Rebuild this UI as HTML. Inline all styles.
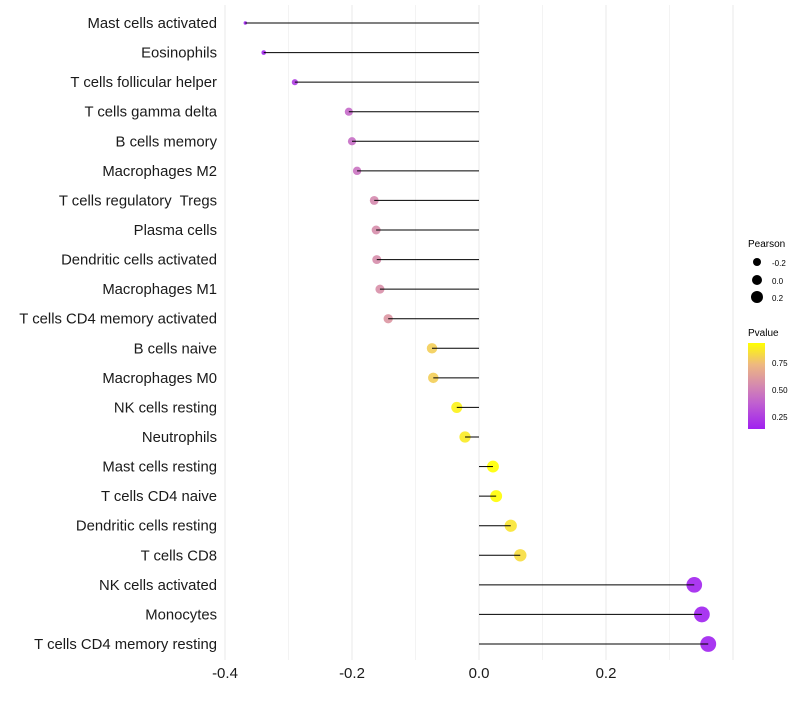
<!DOCTYPE html>
<html><head><meta charset="utf-8"><style>
body{margin:0;background:#fff;font-family:"Liberation Sans",sans-serif}
text{white-space:pre}
</style></head><body>
<svg id="chart" width="800" height="700" xmlns="http://www.w3.org/2000/svg" font-family="Liberation Sans, sans-serif">
<defs><linearGradient id="pg" x1="0" y1="1" x2="0" y2="0">
<stop offset="0" stop-color="#a020f0"/><stop offset="0.3" stop-color="#c060d0"/><stop offset="0.5" stop-color="#d488b0"/><stop offset="0.75" stop-color="#eeb880"/><stop offset="1" stop-color="#ffff00"/></linearGradient></defs>
<g id="grid"></g><g id="marks"></g><g id="labels"></g>
<g>
<text x="748" y="247" font-size="10">Pearson</text>
<circle cx="757" cy="262" r="4" fill="#000"/><text x="772" y="266" font-size="8">-0.2</text>
<circle cx="757" cy="280" r="5" fill="#000"/><text x="772" y="284" font-size="8">0.0</text>
<circle cx="757" cy="297" r="6" fill="#000"/><text x="772" y="301" font-size="8">0.2</text>
<text x="748" y="336" font-size="10">Pvalue</text>
<rect x="748" y="343" width="17" height="86" fill="url(#pg)"/>
<text x="772" y="366" font-size="8">0.75</text>
<text x="772" y="393" font-size="8">0.50</text>
<text x="772" y="420" font-size="8">0.25</text>
</g>
</svg>
<script>
const categories=["Mast cells activated","Eosinophils","T cells follicular helper","T cells gamma delta","B cells memory","Macrophages M2","T cells regulatory  Tregs","Plasma cells","Dendritic cells activated","Macrophages M1","T cells CD4 memory activated","B cells naive","Macrophages M0","NK cells resting","Neutrophils","Mast cells resting","T cells CD4 naive","Dendritic cells resting","T cells CD8","NK cells activated","Monocytes","T cells CD4 memory resting"];
const pearson=[-0.368,-0.339,-0.290,-0.205,-0.200,-0.192,-0.165,-0.162,-0.161,-0.156,-0.143,-0.074,-0.072,-0.035,-0.022,0.022,0.027,0.050,0.065,0.339,0.351,0.361];
const pvalue=[0.15,0.17,0.25,0.42,0.44,0.46,0.55,0.56,0.56,0.57,0.6,0.8,0.8,0.9,0.88,0.94,0.93,0.86,0.84,0.16,0.15,0.15];
const xTicks=[-0.4,-0.2,0.0,0.2];
const xTickLabels=["-0.4","-0.2","0.0","0.2"];
const NS="http://www.w3.org/2000/svg";
const x=v=>479+v*635;
const y=i=>23+i*(621/21);
function mk(t,a,p){const e=document.createElementNS(NS,t);for(const k in a)e.setAttribute(k,a[k]);p.appendChild(e);return e;}
const stops=[[0,[160,32,240]],[0.3,[192,96,208]],[0.5,[212,136,176]],[0.75,[238,184,128]],[1,[255,255,0]]];
function col(p){let f=(p-0.148)/(0.935-0.148);f=Math.max(0,Math.min(1,f));for(let i=1;i<stops.length;i++){if(f<=stops[i][0]){const a=stops[i-1],b=stops[i],t=(f-a[0])/(b[0]-a[0]);return "rgb("+a[1].map((c,j)=>Math.round(c+(b[1][j]-c)*t)).join(",")+")";}}return "rgb(255,255,0)";}
const mn=Math.min(...pearson),mx=Math.max(...pearson);
const rad=v=>Math.sqrt(3+60*(v-mn)/(mx-mn));
const grid=document.getElementById('grid'),marks=document.getElementById('marks'),labels=document.getElementById('labels');
for(let v=-0.4;v<=0.401;v+=0.1){const g=mk('line',{x1:x(v),x2:x(v),y1:5,y2:660,stroke:'#ebebeb','stroke-width':Math.abs(Math.round(v*10))%2===0?1.1:0.6},grid);

}
categories.forEach((c,i)=>{
const t=mk('text',{x:217,y:y(i)+5,'text-anchor':'end','font-size':14.85,fill:'#1a1a1a','xml:space':'preserve'},labels);t.textContent=c;


const ci=mk('circle',{cx:x(pearson[i]),cy:y(i),r:rad(pearson[i]),fill:col(pvalue[i]),opacity:0.9},marks);


const l=mk('line',{x1:x(0),x2:x(pearson[i]),y1:y(i),y2:y(i),stroke:'#000','stroke-width':1},marks);


});
xTicks.forEach((v,i)=>{const t=mk('text',{x:x(v),y:678,'text-anchor':'middle','font-size':15,fill:'#1a1a1a'},labels);t.textContent=xTickLabels[i];

});
</script>
</body></html>
